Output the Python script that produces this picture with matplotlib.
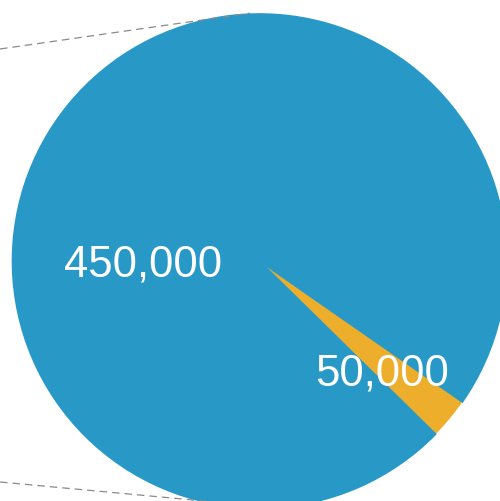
import numpy as np
import matplotlib
matplotlib.use('Agg')
import matplotlib.pyplot as plt

# slice sizes as drawn (degrees of the circle) and their printed labels
slice_sizes = [350.3, 9.7]
slice_labels = ['450,000', '50,000']
slice_colors = ['#2899c7', '#edae2b']

# where each label sits, in pixel coords (y measured from bottom)
label_pos = [(143, 236), (382, 127)]

# pie geometry (pixels)
cx, cy, r = 259.5, 240.0, 247.0

fig = plt.figure(figsize=(5, 5.01), dpi=100)
ax = fig.add_axes([0, 0, 1, 1])

# connector lines toward the off-image primary pie
conn_angles = [92.2, -85.2]
conn_left_y = [452, 19]
for ang, ly in zip(conn_angles, conn_left_y):
    ex = cx + (r + 1) * np.cos(np.radians(ang))
    ey = cy + (r + 1) * np.sin(np.radians(ang))
    ax.plot([0, ex], [ly, ey], color='#8a8a8a', lw=0.9,
            dashes=(6, 4), zorder=5)

wedges, _ = ax.pie(slice_sizes, colors=slice_colors, startangle=-34.8,
                   counterclock=True, center=(cx, cy), radius=r,
                   wedgeprops=dict(linewidth=0), frame=True)
# big slice on top with a thin outline, which hides the very tip of the small one
wedges[0].set_zorder(3)
wedges[0].set_edgecolor(slice_colors[0])
wedges[0].set_linewidth(1.2)
wedges[1].set_zorder(2)

for (tx, ty), lab in zip(label_pos, slice_labels):
    ax.text(tx, ty, lab, color='white', fontsize=31.5,
            family=['Liberation Sans', 'DejaVu Sans'],
            ha='center', va='center', zorder=4)

ax.set_xlim(0, 500)
ax.set_ylim(0, 501)
ax.set_aspect('equal')
ax.axis('off')

fig.savefig('out.png', dpi=100)
